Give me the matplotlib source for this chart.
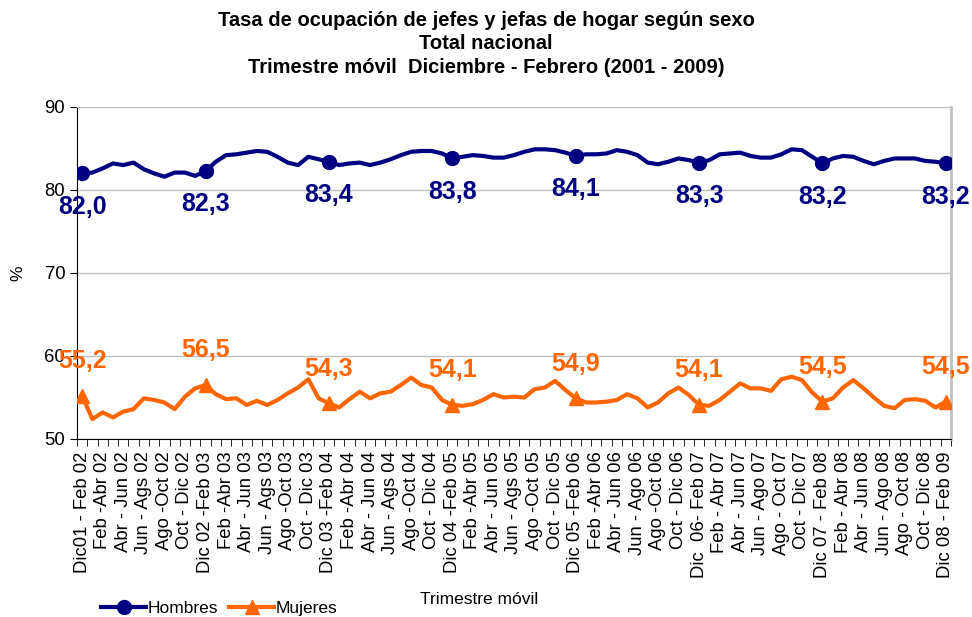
import numpy as np
import matplotlib
matplotlib.use('Agg')
import matplotlib.pyplot as plt

plt.rcParams['font.family'] = ['Liberation Sans', 'DejaVu Sans']

# trimestres moviles (etiquetas cada dos trimestres)
etiquetas = ['Dic01 - Feb 02', 'Feb -Abr 02', 'Abr - Jun 02', 'Jun - Ags 02', 'Ago -Oct 02', 'Oct - Dic 02',
             'Dic 02 -Feb 03', 'Feb -Abr 03', 'Abr - Jun 03', 'Jun - Ags 03', 'Ago -Oct 03', 'Oct - Dic 03',
             'Dic 03 -Feb 04', 'Feb -Abr 04', 'Abr - Jun 04', 'Jun - Ags 04', 'Ago -Oct 04', 'Oct - Dic 04',
             'Dic 04 -Feb 05', 'Feb -Abr 05', 'Abr - Jun 05', 'Jun - Ags 05', 'Ago -Oct 05', 'Oct - Dic 05',
             'Dic 05 -Feb 06', 'Feb -Abr 06', 'Abr - Jun 06', 'Jun - Ago 06', 'Ago -Oct 06', 'Oct - Dic 06',
             'Dic  06- Feb 07', 'Feb - Abr 07', 'Abr - Jun 07', 'Jun - Ago 07', 'Ago - Oct 07', 'Oct - Dic 07',
             'Dic 07 - Feb 08', 'Feb - Abr 08', 'Abr - Jun 08', 'Jun - Ago 08', 'Ago - Oct 08', 'Oct - Dic 08',
             'Dic 08 - Feb 09']

hombres = [82.0, 82.1, 82.6, 83.2, 83.0, 83.3, 82.5, 82.0, 81.6, 82.1, 82.1, 81.7,
           82.3, 83.4, 84.2, 84.3, 84.5, 84.7, 84.6, 84.0, 83.3, 83.0, 84.0, 83.7,
           83.4, 83.0, 83.2, 83.3, 83.0, 83.3, 83.7, 84.2, 84.6, 84.7, 84.7, 84.4,
           83.8, 84.0, 84.2, 84.1, 83.9, 83.9, 84.2, 84.6, 84.9, 84.9, 84.8, 84.5,
           84.1, 84.3, 84.3, 84.4, 84.8, 84.6, 84.2, 83.3, 83.1, 83.4, 83.8, 83.6,
           83.3, 83.6, 84.3, 84.4, 84.5, 84.1, 83.9, 83.9, 84.3, 84.9, 84.8, 84.0,
           83.2, 83.8, 84.1, 84.0, 83.5, 83.1, 83.5, 83.8, 83.8, 83.8, 83.5, 83.4,
           83.2]

mujeres = [55.2, 52.4, 53.2, 52.6, 53.3, 53.6, 54.9, 54.7, 54.4, 53.6, 55.1, 56.1,
           56.5, 55.4, 54.8, 54.9, 54.1, 54.6, 54.1, 54.7, 55.5, 56.2, 57.2, 54.9,
           54.3, 53.8, 54.8, 55.7, 54.9, 55.5, 55.7, 56.5, 57.4, 56.5, 56.2, 54.7,
           54.1, 54.0, 54.2, 54.7, 55.4, 55.0, 55.1, 55.0, 56.0, 56.2, 57.0, 55.9,
           54.9, 54.4, 54.4, 54.5, 54.7, 55.4, 54.9, 53.8, 54.4, 55.5, 56.2, 55.3,
           54.1, 54.0, 54.7, 55.7, 56.7, 56.1, 56.1, 55.8, 57.2, 57.5, 57.1, 55.6,
           54.5, 54.9, 56.2, 57.1, 56.1, 55.0, 54.0, 53.7, 54.7, 54.8, 54.6, 53.8,
           54.5]

azul = '#000080'
naranja = '#FF6600'

x = np.arange(len(hombres))

fig = plt.figure(figsize=(9.72, 6.17), dpi=100)
ax = fig.add_axes([0.0792, 0.2885, 0.8992, 0.5381])

ax.plot(x, hombres, color=azul, lw=3, marker='o', ms=10, markevery=12,
        solid_joinstyle='round', label='Hombres', zorder=3)
ax.plot(x, mujeres, color=naranja, lw=3, marker='^', ms=10, markevery=12,
        solid_joinstyle='round', label='Mujeres', zorder=3)

# etiquetas de datos cada 12 trimestres
for i in range(0, len(x), 12):
    ax.annotate(f'{hombres[i]:.1f}'.replace('.', ','), (x[i], hombres[i]),
                xytext=(0, -24), textcoords='offset points', ha='center', va='center',
                color=azul, fontsize=18, fontweight='bold')
    ax.annotate(f'{mujeres[i]:.1f}'.replace('.', ','), (x[i], mujeres[i]),
                xytext=(0, 25), textcoords='offset points', ha='center', va='center',
                color=naranja, fontsize=18, fontweight='bold')

ax.set_xlim(-0.5, len(x) - 0.5)
ax.set_ylim(50, 90)
ax.set_yticks([50, 60, 70, 80, 90])
ax.yaxis.grid(True, color='#c0c0c0', lw=1)
ax.set_axisbelow(True)

ax.set_xticks(x[::2])
ax.set_xticklabels(etiquetas, rotation=90, fontsize=13.3)
ax.set_xticks(np.arange(-0.5, len(x)), minor=True)
ax.tick_params(axis='x', which='major', length=0, pad=9)
ax.tick_params(axis='x', which='minor', length=5, color='black')
ax.tick_params(axis='y', labelsize=13.3, length=5)

ax.spines['top'].set_color('#c0c0c0')
ax.spines['right'].set_color('#c0c0c0')
ax.spines['right'].set_linewidth(2)

ax.set_ylabel('%', fontsize=12.5, labelpad=14)
ax.set_xlabel('Trimestre móvil', fontsize=12.5)
ax.xaxis.set_label_coords(0.46, -0.462)

fig.text(0.5, 0.967, 'Tasa de ocupación de jefes y jefas de hogar según sexo', ha='center',
         va='center', fontsize=14.5, fontweight='bold')
fig.text(0.5, 0.929, 'Total nacional', ha='center', va='center', fontsize=14.5, fontweight='bold')
fig.text(0.5, 0.890, 'Trimestre móvil  Diciembre - Febrero (2001 - 2009)', ha='center',
         va='center', fontsize=14.5, fontweight='bold')

fig.legend(loc='lower left', bbox_to_anchor=(0.088, -0.024), ncol=2, frameon=False,
           fontsize=12.5, handlelength=2.6, handletextpad=0.1, columnspacing=0.6)

fig.savefig('out.png', dpi=100)
